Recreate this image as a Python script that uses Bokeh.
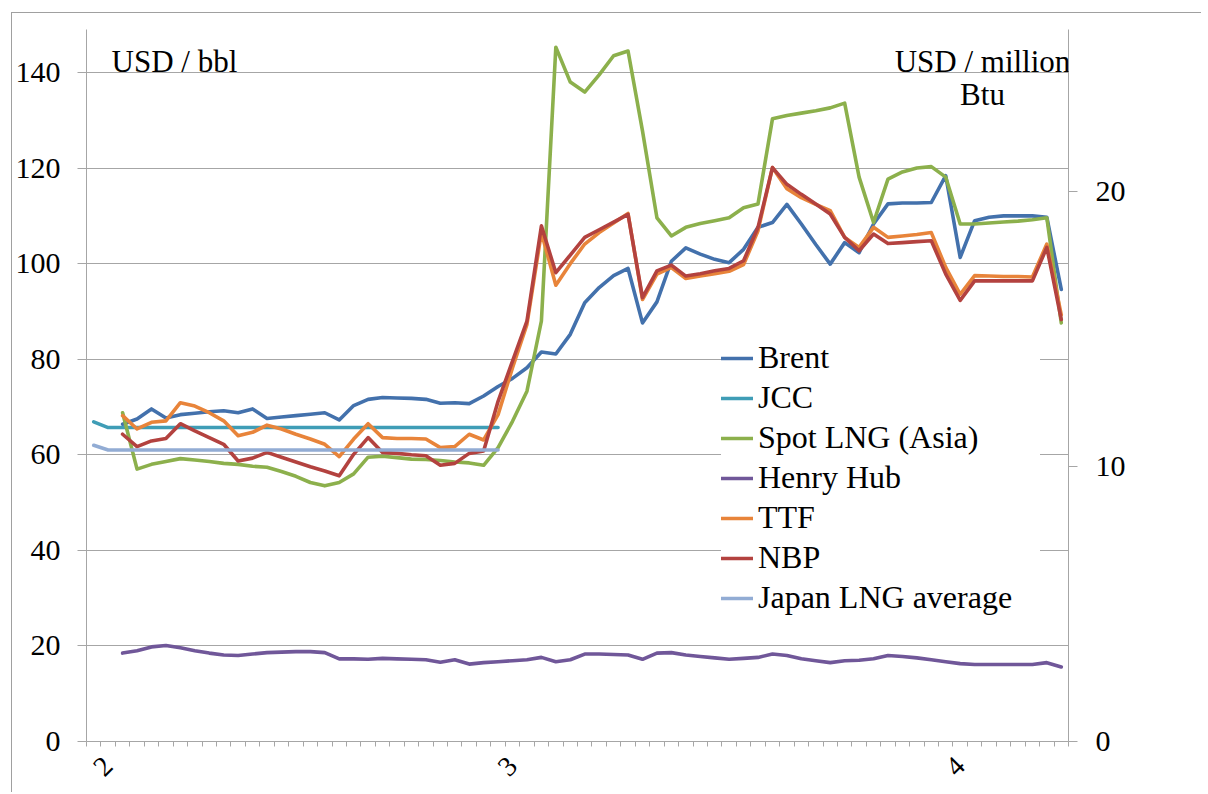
from math import pi
from bokeh.plotting import figure
from bokeh.models import Range1d, LinearAxis, FixedTicker, Legend, LegendItem, Label
from bokeh.embed import file_html
from bokeh.resources import INLINE

# ---------------- data (daily categories, index 0 = 31 Jan) ----------------
n_days = 68
month_starts = [1, 29, 60]
month_labels = ["2", "3", "4"]

days_daily = list(range(2, 68))
brent = [66.4, 67.5, 69.6, 67.7, 68.4, 68.7, 69.0, 69.2, 68.8, 69.6,
         67.6, 67.9, 68.2, 68.5, 68.8, 67.3, 70.3, 71.6, 72.0, 71.9,
         71.8, 71.6, 70.8, 70.9, 70.7, 72.3, 74.3, 76.0, 78.2, 81.5,
         81.1, 85.2, 91.8, 95.0, 97.5, 99.0, 87.6, 92.0, 100.5, 103.3,
         102.0, 100.9, 100.2, 103.0, 107.6, 108.6, 112.4, 108.3, 104.0, 99.9,
         104.4, 102.3, 108.3, 112.5, 112.7, 112.7, 112.8, 118.4, 101.3, 109.0,
         109.7, 110.0, 110.0, 110.0, 109.7, 94.6]
spot_lng = [68.8, 57.0, 58.0, 58.6, 59.2, 58.9, 58.6, 58.2, 58.0, 57.6,
            57.4, 56.5, 55.5, 54.2, 53.5, 54.2, 56.0, 59.5, 59.7, 59.4,
            59.1, 59.0, 58.8, 58.5, 58.3, 57.8, 61.5, 67.0, 73.3, 88.0,
            145.3, 138.0, 135.9, 139.5, 143.5, 144.5, 127.8, 109.6, 105.8, 107.6,
            108.4, 109.0, 109.6, 111.7, 112.5, 130.3, 131.0, 131.5, 132.0, 132.6,
            133.6, 118.1, 108.6, 117.7, 119.2, 120.0, 120.3, 118.1, 108.3, 108.3,
            108.5, 108.7, 108.9, 109.2, 109.6, 87.6]
henry_hub = [18.5, 19.0, 19.8, 20.1, 19.6, 19.0, 18.5, 18.1, 18.0, 18.3,
             18.6, 18.7, 18.8, 18.8, 18.6, 17.3, 17.3, 17.2, 17.4, 17.3,
             17.2, 17.1, 16.6, 17.1, 16.2, 16.5, 16.7, 16.9, 17.1, 17.6,
             16.7, 17.1, 18.3, 18.3, 18.2, 18.1, 17.2, 18.5, 18.6, 18.1,
             17.8, 17.5, 17.2, 17.4, 17.6, 18.3, 18.0, 17.3, 16.9, 16.5,
             16.9, 17.0, 17.3, 18.0, 17.8, 17.5, 17.1, 16.7, 16.3, 16.1,
             16.1, 16.1, 16.1, 16.1, 16.5, 15.6]
ttf = [68.2, 65.4, 66.8, 67.1, 70.9, 70.2, 68.8, 67.1, 64.0, 64.7,
       66.2, 65.4, 64.3, 63.3, 62.2, 59.6, 63.3, 66.5, 63.6, 63.4,
       63.4, 63.3, 61.5, 61.7, 64.3, 63.1, 68.4, 78.2, 87.3, 106.5,
       95.5, 100.0, 104.1, 106.5, 108.5, 110.5, 92.5, 97.8, 99.2, 96.9,
       97.4, 97.9, 98.4, 99.8, 106.9, 120.1, 115.7, 113.8, 112.4, 111.1,
       105.5, 103.4, 107.6, 105.5, 105.8, 106.1, 106.5, 99.2, 93.6, 97.5,
       97.4, 97.3, 97.3, 97.2, 104.1, 89.3]
nbp = [64.3, 61.7, 62.9, 63.4, 66.5, 65.0, 63.6, 62.2, 58.7, 59.3,
       60.5, 59.5, 58.5, 57.5, 56.6, 55.6, 60.1, 63.6, 60.5, 60.3,
       60.0, 59.8, 57.8, 58.2, 60.3, 60.8, 71.2, 79.6, 88.0, 107.9,
       98.1, 101.8, 105.5, 107.1, 108.7, 110.3, 92.9, 98.5, 99.7, 97.4,
       97.9, 98.5, 99.0, 100.6, 107.6, 120.1, 116.6, 114.5, 112.5, 110.4,
       105.5, 102.7, 106.2, 104.2, 104.4, 104.6, 104.8, 97.8, 92.3, 96.4,
       96.4, 96.4, 96.4, 96.4, 103.4, 88.3]

days_monthly = [0, 1, 28]
jcc = [66.9, 65.7, 65.7]
japan_lng = [62.0, 61.0, 61.0]

left_ticks = [0, 20, 40, 60, 80, 100, 120, 140]
right_ticks = [0, 10, 20]
bbl_per_mmbtu = 5.76
y_max = 149

series = [
    ("Brent", days_daily, brent, "#4371AC"),
    ("JCC", days_monthly, jcc, "#3F9DB6"),
    ("Spot LNG (Asia)", days_daily, spot_lng, "#8CB04C"),
    ("Henry Hub", days_daily, henry_hub, "#705799"),
    ("TTF", days_daily, ttf, "#E8843A"),
    ("NBP", days_daily, nbp, "#B3423F"),
    ("Japan LNG average", days_monthly, japan_lng, "#92ACD4"),
]

FONT = "Liberation Serif"
GRID = "#a6a6a6"

p = figure(width=1190, height=780, output_backend="svg", toolbar_location=None,
           x_range=Range1d(0, n_days), y_range=Range1d(0, y_max),
           min_border_left=74, min_border_right=134, min_border_top=16,
           min_border_bottom=52)
p.styles = {"margin-left": "11px", "margin-top": "12px",
            "border-left": "1px solid #a0a0a0", "border-top": "1px solid #a0a0a0"}
p.outline_line_color = None
p.background_fill_color = "white"
p.border_fill_color = "white"

p.extra_y_ranges = {"mmbtu": Range1d(0, y_max / bbl_per_mmbtu)}

# left axis
ya = p.yaxis[0]
ya.ticker = FixedTicker(ticks=left_ticks)
ya.axis_line_color = GRID
ya.major_tick_line_color = GRID
ya.major_tick_in = 0
ya.major_tick_out = 9
ya.minor_tick_line_color = None
ya.major_label_text_font = FONT
ya.major_label_text_font_size = "30px"
ya.major_label_text_color = "black"
ya.major_label_standoff = 17

p.ygrid.ticker = FixedTicker(ticks=left_ticks)
p.ygrid.grid_line_color = GRID
p.xgrid.grid_line_color = None

# right axis
ra = LinearAxis(y_range_name="mmbtu", ticker=FixedTicker(ticks=right_ticks))
ra.axis_line_color = GRID
ra.major_tick_line_color = GRID
ra.major_tick_in = 0
ra.major_tick_out = 9
ra.minor_tick_line_color = None
ra.major_label_text_font = FONT
ra.major_label_text_font_size = "30px"
ra.major_label_text_color = "black"
ra.major_label_standoff = 18
p.add_layout(ra, "right")

# bottom axis
xa = p.xaxis[0]
label_pos = [d + 0.5 for d in month_starts]
xa.ticker = FixedTicker(ticks=label_pos, minor_ticks=list(range(0, n_days + 1)))
xa.major_label_overrides = {pos: lab for pos, lab in zip(label_pos, month_labels)}
xa.axis_line_color = GRID
xa.major_tick_line_color = None
xa.minor_tick_line_color = GRID
xa.minor_tick_in = 0
xa.minor_tick_out = 5
xa.major_label_orientation = pi / 4
xa.major_label_text_font = FONT
xa.major_label_text_font_size = "28px"
xa.major_label_text_color = "black"
xa.major_label_standoff = 14

items = []
for name, days, vals, col in series:
    xs = [d + 0.5 for d in days]
    r = p.line(xs, vals, line_color=col, line_width=3.6, line_join="round", line_cap="round")
    items.append(LegendItem(label=name, renderers=[r]))

legend = Legend(items=items, location=(635, 125), orientation="vertical",
                padding=20, margin=0, spacing=3,
                glyph_width=32, glyph_height=30, label_height=30, label_standoff=5,
                label_width=282,
                label_text_font=FONT, label_text_font_size="32px", label_text_color="black",
                background_fill_color="white", background_fill_alpha=1.0,
                border_line_color=None)
p.add_layout(legend)

for txt, x, y, align in [("USD  / bbl", 25, 680, "left"),
                         ("USD / million", 896, 680, "center"),
                         ("Btu", 896, 647, "center")]:
    p.add_layout(Label(x=x, y=y, x_units="screen", y_units="screen", text=txt,
                       text_font=FONT, text_font_size="31px", text_color="black",
                       text_align=align, text_baseline="alphabetic"))

open("out.html", "w").write(file_html(p, INLINE))
